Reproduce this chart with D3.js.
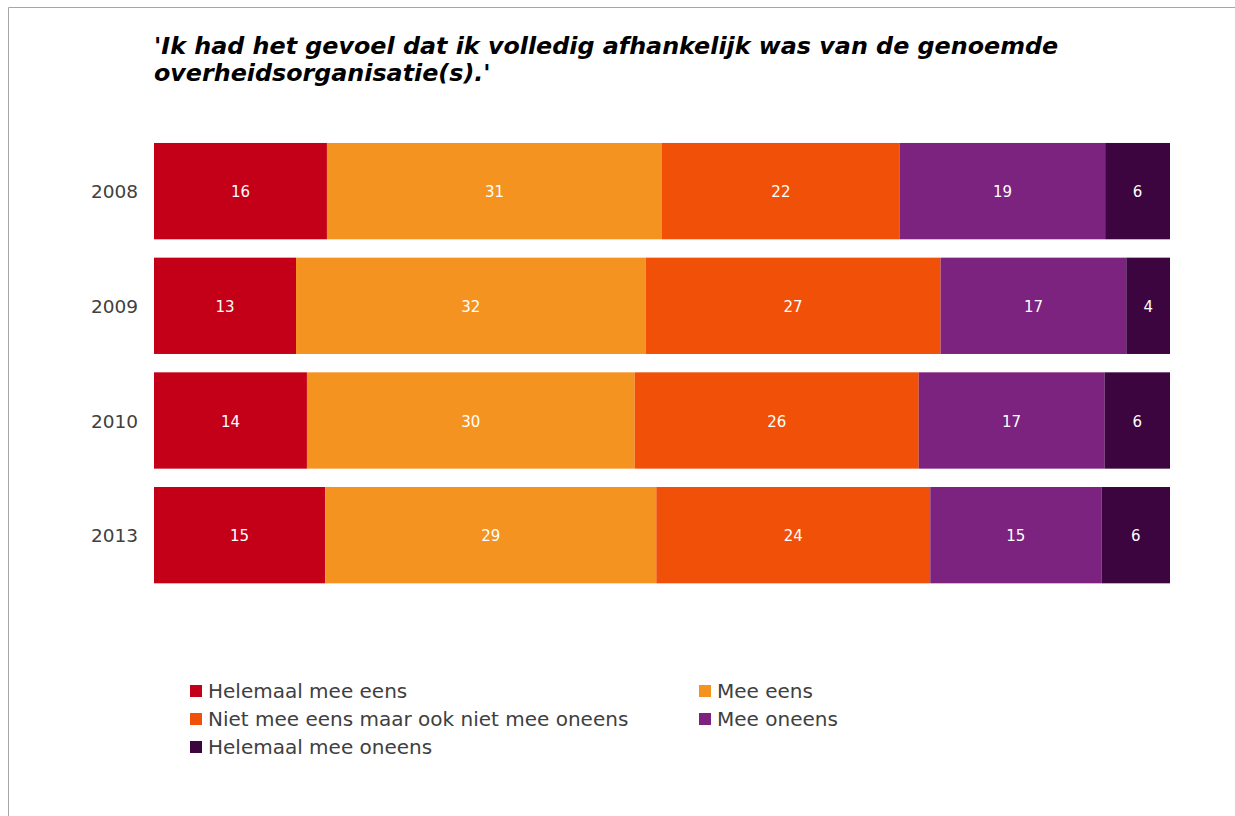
<!DOCTYPE html>
<html>
<head>
<meta charset="utf-8">
<script src="https://cdn.jsdelivr.net/npm/d3@7"></script>
<style>
  html, body { margin: 0; padding: 0; background: #fff; }
  svg { display: block; }
</style>
</head>
<body>
<svg id="chart" width="1235" height="816"></svg>
<script>
// Survey years and answer categories
const years = ["2008", "2009", "2010", "2013"];
const categories = [
  "Helemaal mee eens",
  "Mee eens",
  "Niet mee eens maar ook niet mee oneens",
  "Mee oneens",
  "Helemaal mee oneens"
];
// Percentages per year, one array per category (same order as years)
const helemaalMeeEens   = [16, 13, 14, 15];
const meeEens           = [31, 32, 30, 29];
const nietEensNietOneens = [22, 27, 26, 24];
const meeOneens         = [19, 17, 17, 15];
const helemaalMeeOneens = [6, 4, 6, 6];
const colors = ["#c40018", "#f59320", "#f05008", "#7b237e", "#3c0540"];

const series = [helemaalMeeEens, meeEens, nietEensNietOneens, meeOneens, helemaalMeeOneens];
const rows = years.map((y, i) => {
  const r = { year: y };
  categories.forEach((c, j) => { r[c] = series[j][i]; });
  return r;
});

const svg = d3.select("#chart");
const font = "'DejaVu Sans', Verdana, sans-serif";

// Frame lines (top and left)
svg.append("line").attr("x1", 8.5).attr("x2", 1235).attr("y1", 7.5).attr("y2", 7.5)
  .attr("stroke", "#a6a6a6").attr("stroke-width", 1);
svg.append("line").attr("x1", 8.5).attr("x2", 8.5).attr("y1", 7.5).attr("y2", 816)
  .attr("stroke", "#a6a6a6").attr("stroke-width", 1);

// Title
const title = svg.append("text")
  .attr("font-family", font).attr("font-weight", "bold").attr("font-style", "italic")
  .attr("font-size", 23.8).attr("fill", "#000");
title.append("tspan").attr("x", 154).attr("y", 54)
  .text("'Ik had het gevoel dat ik volledig afhankelijk was van de genoemde");
title.append("tspan").attr("x", 154).attr("y", 81)
  .text("overheidsorganisatie(s).'");

// Scales: each row is shown as a share of its own total
const x = d3.scaleLinear().domain([0, 1]).range([154, 1170]);
const y = d3.scaleBand().domain(years).range([133.8, 592.5]).paddingInner(0.16).paddingOuter(0.08);

const stacked = d3.stack().keys(categories).offset(d3.stackOffsetExpand)(rows);

const layer = svg.append("g").selectAll("g").data(stacked).join("g")
  .attr("fill", (d, i) => colors[i]);

layer.selectAll("rect").data(d => d.map(p => Object.assign(p, { key: d.key }))).join("rect")
  .attr("x", d => x(d[0]))
  .attr("y", d => y(d.data.year))
  .attr("width", d => x(d[1]) - x(d[0]))
  .attr("height", y.bandwidth());

layer.selectAll("text").data(d => d).join("text")
  .attr("x", d => (x(d[0]) + x(d[1])) / 2)
  .attr("y", d => y(d.data.year) + y.bandwidth() / 2)
  .attr("dy", "0.42em")
  .attr("text-anchor", "middle")
  .attr("font-family", font).attr("font-size", 15)
  .attr("fill", "#fff")
  .text(d => d.data[d.key]);

// Year axis
const yAxis = svg.append("g").attr("transform", "translate(154,0)")
  .call(d3.axisLeft(y).tickSize(0).tickPadding(16));
yAxis.select(".domain").remove();
yAxis.selectAll("text").attr("font-family", font).attr("font-size", 18.5).attr("fill", "#404040")
  .attr("dy", "0.38em");

// Legend
const legendPos = [[190, 691], [699, 691], [190, 719], [699, 719], [190, 747]];
const legend = svg.append("g").selectAll("g").data(categories).join("g")
  .attr("transform", (d, i) => `translate(${legendPos[i][0]},${legendPos[i][1]})`);
legend.append("rect").attr("x", 0).attr("y", -6).attr("width", 12).attr("height", 12)
  .attr("fill", (d, i) => colors[i]);
legend.append("text").attr("x", 18).attr("y", 0).attr("dy", "0.36em")
  .attr("font-family", font).attr("font-size", 20).attr("fill", "#404040")
  .text(d => d);
</script>
</body>
</html>
